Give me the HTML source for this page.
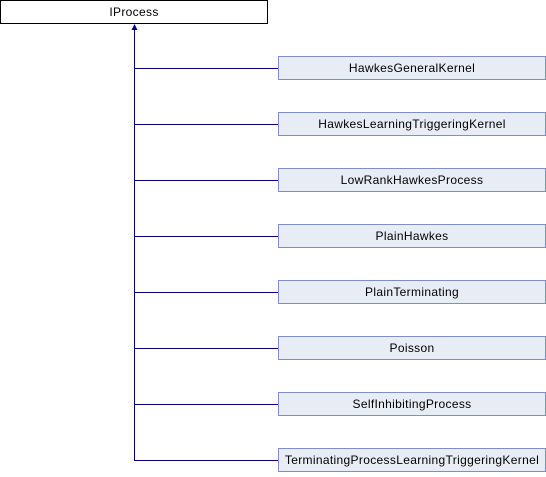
<!DOCTYPE html>
<html><head><style>
body{margin:0;background:#fff;width:546px;height:472px;overflow:hidden}
svg text{font-family:"Liberation Sans",sans-serif;font-size:12px;letter-spacing:0.33px}
</style></head><body>
<svg width="546" height="472" xmlns="http://www.w3.org/2000/svg">
<rect x="0.5" y="0.5" width="267" height="23" fill="#fff" stroke="#000"/>
<text x="134" y="16" text-anchor="middle">IProcess</text>
<line x1="134.5" y1="29" x2="134.5" y2="460.5" stroke="#000080" stroke-width="1"/>
<polygon points="134.5,24 131.5,30 137.5,30" fill="#000080"/>
<g stroke="#000080">
<line x1="134" y1="68.5" x2="278" y2="68.5"/>
<line x1="134" y1="124.5" x2="278" y2="124.5"/>
<line x1="134" y1="180.5" x2="278" y2="180.5"/>
<line x1="134" y1="236.5" x2="278" y2="236.5"/>
<line x1="134" y1="292.5" x2="278" y2="292.5"/>
<line x1="134" y1="348.5" x2="278" y2="348.5"/>
<line x1="134" y1="404.5" x2="278" y2="404.5"/>
<line x1="134" y1="460.5" x2="278" y2="460.5"/>
</g>
<g fill="#e8ecf4" stroke="#7b90c8">
<rect x="278.5" y="56.5" width="267" height="23"/>
<rect x="278.5" y="112.5" width="267" height="23"/>
<rect x="278.5" y="168.5" width="267" height="23"/>
<rect x="278.5" y="224.5" width="267" height="23"/>
<rect x="278.5" y="280.5" width="267" height="23"/>
<rect x="278.5" y="336.5" width="267" height="23"/>
<rect x="278.5" y="392.5" width="267" height="23"/>
<rect x="278.5" y="448.5" width="267" height="23"/>
</g>
<g text-anchor="middle">
<text x="412" y="72">HawkesGeneralKernel</text>
<text x="412" y="128">HawkesLearningTriggeringKernel</text>
<text x="412" y="184">LowRankHawkesProcess</text>
<text x="412" y="240">PlainHawkes</text>
<text x="412" y="296">PlainTerminating</text>
<text x="412" y="352">Poisson</text>
<text x="412" y="408">SelfInhibitingProcess</text>
<text x="412" y="464">TerminatingProcessLearningTriggeringKernel</text>
</g>
</svg>
</body></html>
